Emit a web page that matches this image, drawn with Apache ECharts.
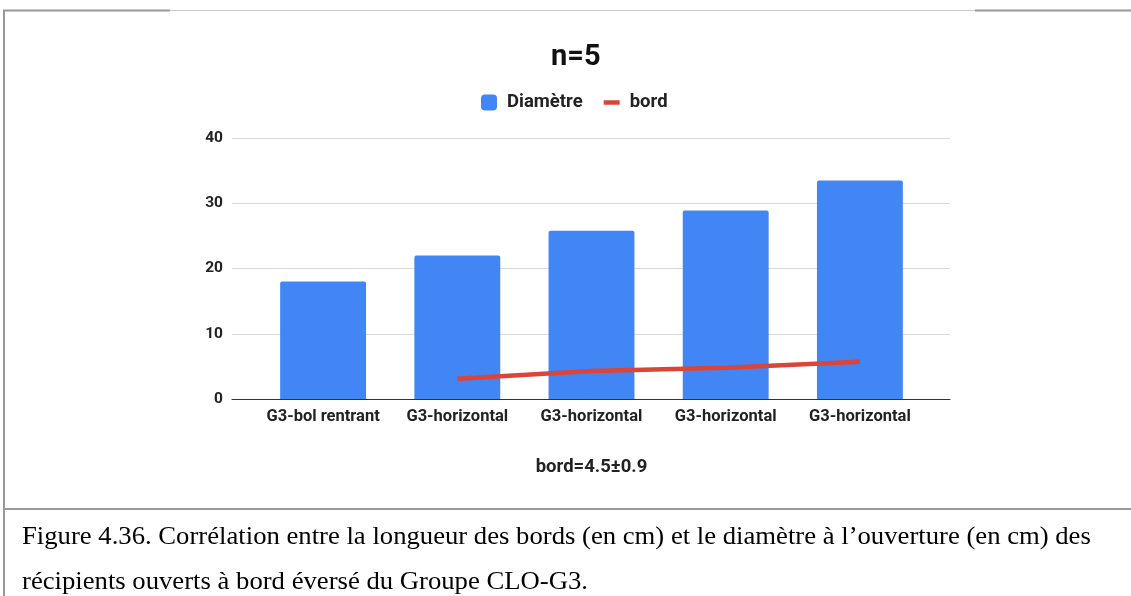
<!DOCTYPE html>
<html>
<head>
<meta charset="utf-8">
<script src="https://cdn.jsdelivr.net/npm/echarts@6/dist/echarts.min.js"></script>
<style>
html,body{margin:0;padding:0;background:#fff;}
#c{width:1131px;height:596px;}
</style>
</head>
<body>
<div id="c"></div>
<script>
const categories = ['G3-bol rentrant','G3-horizontal','G3-horizontal','G3-horizontal','G3-horizontal'];
const diametre = [18, 22, 25.8, 28.9, 33.5];
const bord = [null, 3.1, 4.3, 4.8, 5.7];
const yTicks = [0, 10, 20, 30, 40];
const titleText = 'n=5';
const axisNameText = 'bord=4.5±0.9';
const captionLines = [
  'Figure 4.36. Corrélation entre la longueur des bords (en cm) et le diamètre à l’ouverture (en cm) des',
  'récipients ouverts à bord éversé du Groupe CLO-G3.'
];

const chart = echarts.init(document.getElementById('c'), null, {renderer:'canvas'});
const font = 'Roboto';
chart.setOption({
  animation:false,
  backgroundColor:'#fff',
  title:{text:titleText,left:546,top:38,textStyle:{fontFamily:font,fontSize:29,fontWeight:'bold',color:'#111'}},
  legend:{
    top:88,left:476,itemGap:21,itemWidth:16,itemHeight:16,
    textStyle:{fontFamily:font,fontSize:18.5,fontWeight:'bold',color:'#222',padding:[0,0,0,5]},
    data:[
      {name:'Diamètre',icon:'roundRect'},
      {name:'bord',icon:'path://M0,0 H16 V4.5 H0 Z'}
    ]
  },
  grid:[
    {left:232,right:181,top:138,bottom:197},
    {left:256,right:204,top:138,bottom:197}
  ],
  xAxis:[
    {gridIndex:0,type:'value',min:0,max:1,axisLabel:{show:false},axisTick:{show:false},splitLine:{show:false},
     axisLine:{show:true,lineStyle:{color:'#333',width:1}}},
    {gridIndex:1,type:'category',data:categories,axisLine:{show:false},axisTick:{show:false},
     axisLabel:{fontFamily:font,fontSize:16.5,fontWeight:'bold',color:'#222',margin:9,interval:0},
     name:axisNameText,nameLocation:'middle',nameGap:59,
     nameTextStyle:{fontFamily:font,fontSize:18.5,fontWeight:'bold',color:'#222'}}
  ],
  yAxis:[
    {gridIndex:0,type:'value',min:yTicks[0],max:yTicks[yTicks.length-1],interval:10,
     axisLine:{show:false},axisTick:{show:false},
     axisLabel:{fontFamily:font,fontSize:15.5,fontWeight:'bold',color:'#222',margin:9},
     splitLine:{lineStyle:{color:'#d9d9d9',width:1}}},
    {gridIndex:1,type:'value',min:0,max:40,show:false,splitLine:{show:false}}
  ],
  series:[
    {name:'Diamètre',type:'bar',xAxisIndex:1,yAxisIndex:1,data:diametre,barWidth:'64%',
     itemStyle:{color:'#4285f4',borderRadius:[2,2,0,0]}},
    {name:'bord',type:'line',xAxisIndex:1,yAxisIndex:1,data:bord,showSymbol:false,symbol:'none',
     lineStyle:{color:'#db4437',width:4.5},itemStyle:{color:'#db4437'},z:5}
  ],
  graphic:[
    {type:'line',shape:{x1:3,y1:10.5,x2:1131,y2:10.5},style:{stroke:'#c8c8c8',lineWidth:1}},
    {type:'line',shape:{x1:3,y1:10.5,x2:170,y2:10.5},style:{stroke:'#999',lineWidth:2}},
    {type:'line',shape:{x1:975,y1:10.5,x2:1131,y2:10.5},style:{stroke:'#999',lineWidth:2}},
    {type:'line',shape:{x1:4,y1:10,x2:4,y2:596},style:{stroke:'#999',lineWidth:2}},
    {type:'line',shape:{x1:3,y1:509,x2:1131,y2:509},style:{stroke:'#999',lineWidth:2}},
    {type:'text',x:22,y:537,scaleX:1.067,style:{text:captionLines[0],fontFamily:'Liberation Serif',fontSize:25,fill:'#000',verticalAlign:'middle'}},
    {type:'text',x:22,y:582,scaleX:1.067,style:{text:captionLines[1],fontFamily:'Liberation Serif',fontSize:25,fill:'#000',verticalAlign:'middle'}}
  ]
});
</script>
</body>
</html>
